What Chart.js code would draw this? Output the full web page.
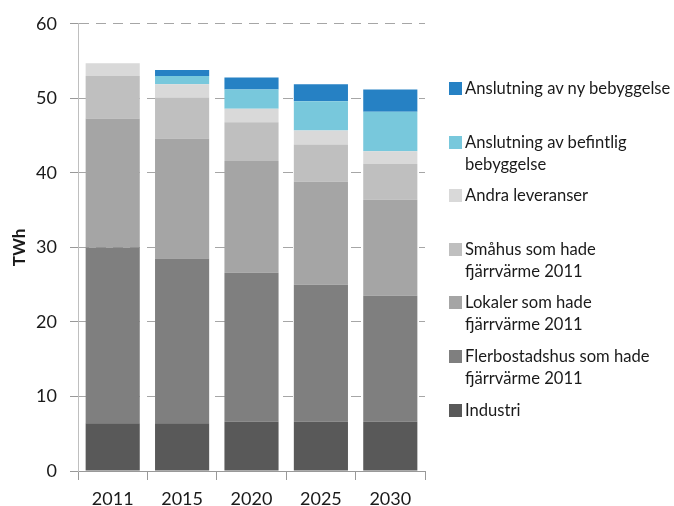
<!DOCTYPE html>
<html>
<head>
<meta charset="utf-8">
<script src="https://cdn.jsdelivr.net/npm/chart.js@4"></script>
<style>
  body { margin: 0; background: #fff; }
  #wrap { position: relative; width: 674px; height: 506px; }
  #legend {
    position: absolute; left: 449px; top: 77px;
    font-family: Lato, sans-serif; font-size: 16.6px; line-height: 22px; color: #1a1a1a;
  }
  .item { position: relative; height: 53.6px; padding-left: 16px; white-space: nowrap; }
  .box { position: absolute; left: 0; top: 5px; width: 13px; height: 13px; }
</style>
</head>
<body>
<div id="wrap">
  <canvas id="c" width="674" height="506"></canvas>
  <div id="legend"></div>
</div>
<script>
var years = ['2011', '2015', '2020', '2025', '2030'];

// stacked bottom to top
var industri = [6.4, 6.4, 6.6, 6.6, 6.6];
var flerbostadshus = [23.6, 22.1, 20.0, 18.4, 16.9];
var lokaler = [17.3, 16.1, 15.0, 13.8, 12.9];
var smahus = [5.7, 5.5, 5.2, 5.0, 4.8];
var andra = [1.7, 1.8, 1.8, 1.9, 1.7];
var befintlig = [0, 1.1, 2.6, 3.9, 5.3];
var nyBebyggelse = [0, 0.8, 1.6, 2.3, 3.0];

var labels = [
  ['Industri'],
  ['Flerbostadshus som hade', 'fjärrvärme 2011'],
  ['Lokaler som hade', 'fjärrvärme 2011'],
  ['Småhus som  hade', 'fjärrvärme 2011'],
  ['Andra leveranser'],
  ['Anslutning av befintlig', 'bebyggelse'],
  ['Anslutning av ny bebyggelse']
];
var values = [industri, flerbostadshus, lokaler, smahus, andra, befintlig, nyBebyggelse];
var colors = ['#595959', '#7f7f7f', '#a5a5a5', '#bfbfbf', '#d9d9d9', '#78c8dc', '#2681c4'];

var datasets = values.map(function(v, i) {
  return {
    label: labels[i].join(' '),
    data: v,
    backgroundColor: colors[i],
    borderWidth: 0,
    barPercentage: 0.78,
    categoryPercentage: 1
  };
});

var font = { family: 'Lato, sans-serif', size: 18 };

new Chart(document.getElementById('c'), {
  type: 'bar',
  data: { labels: years, datasets: datasets },
  options: {
    responsive: false,
    animation: false,
    layout: { padding: { top: 20, right: 249, left: 0, bottom: 0 } },
    plugins: { legend: { display: false }, tooltip: { enabled: false } },
    scales: {
      x: {
        stacked: true,
        grid: { drawOnChartArea: false, tickLength: 9, color: '#999', offset: true },
        border: { color: '#999' },
        ticks: { font: font, color: '#1a1a1a', padding: 8 },
        afterFit: function(s) { s.height = 35; }
      },
      y: {
        stacked: true,
        min: 0, max: 60,
        ticks: { stepSize: 10, font: font, color: '#1a1a1a', padding: 13 },
        grid: { color: '#a6a6a6', tickLength: 8, tickColor: '#999', tickBorderDash: [] },
        border: { color: '#bfbfbf', dash: [10, 7] },
        title: {
          display: true, text: 'TWh', color: '#1a1a1a',
          font: { family: 'Lato, sans-serif', size: 17, weight: 'bold' },
          padding: { top: 9, bottom: 0 }
        },
        afterFit: function(s) { s.width = 78; }
      }
    }
  }
});

var legend = document.getElementById('legend');
for (var i = labels.length - 1; i >= 0; i--) {
  var item = document.createElement('div');
  item.className = 'item';
  item.innerHTML = '<span class="box" style="background:' + colors[i] + '"></span>' + labels[i].join('<br>');
  legend.appendChild(item);
}
</script>
</body>
</html>
